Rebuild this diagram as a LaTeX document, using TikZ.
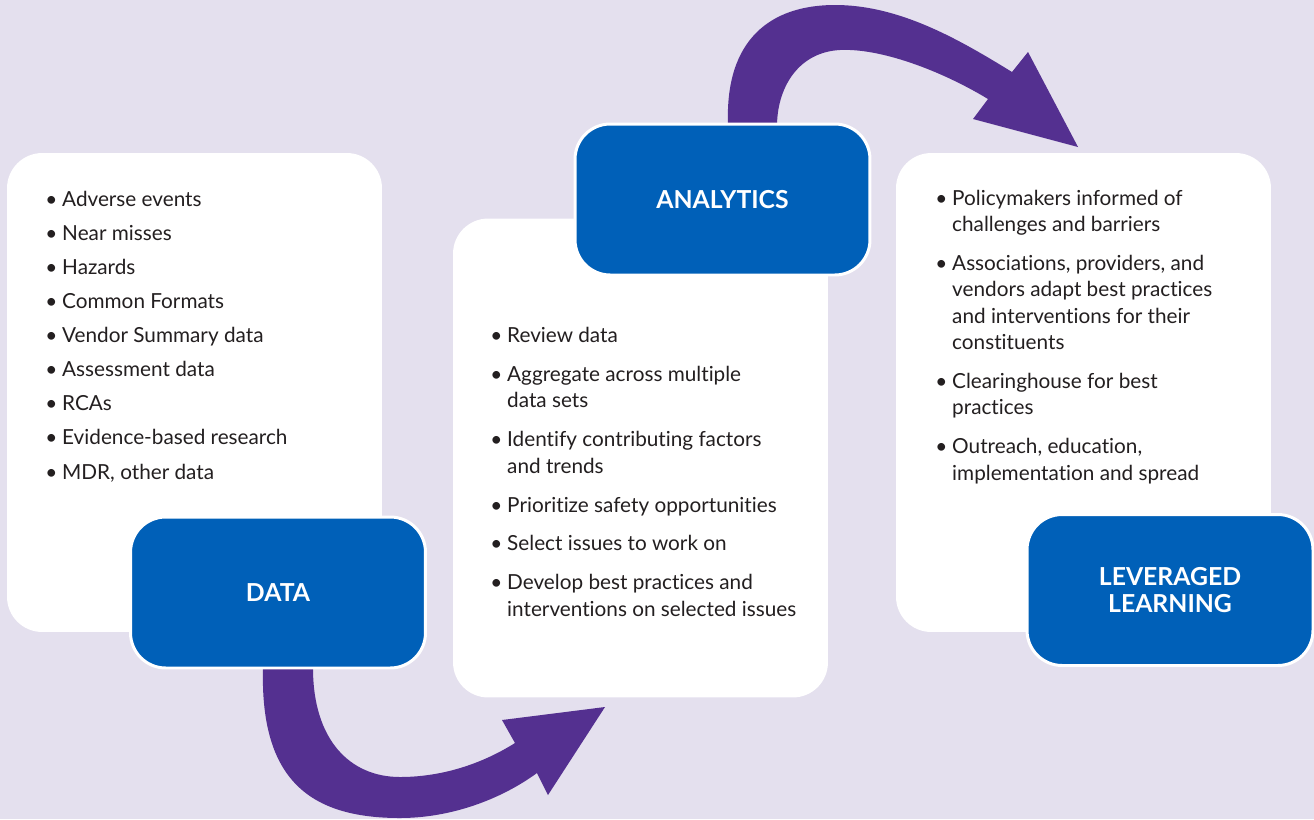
\documentclass[tikz,border=0pt]{standalone}
\usepackage{fontspec}
\setmainfont{Lato}[Ligatures=NoCommon]
\definecolor{lavender}{RGB}{228,224,238}
\definecolor{boxblue}{RGB}{0,96,184}
\definecolor{arrowpurple}{RGB}{84,48,144}
\definecolor{ink}{RGB}{35,31,32}
\newcommand{\bul}{\makebox[9.6pt][l]{\textbullet}}
\newcommand{\ind}{\hspace*{9.6pt}}

\begin{document}
\begin{tikzpicture}[x=0.02cm,y=-0.02cm,
		panel/.style={fill=white,rounded corners=20pt,minimum width=7.5cm,minimum height=9.58cm,inner sep=0pt},
		titlebox/.style={fill=boxblue,draw=white,line width=1.7pt,rounded corners=20pt,minimum width=5.9cm,minimum height=3.02cm,text=white,align=center,font=\fontsize{14.1}{14.9}\selectfont\bfseries},
		bullets/.style={anchor=base west,align=left,text=ink,inner sep=0pt,font=\fontsize{11.8}{15}\selectfont},
		bigarrow/.style={fill=arrowpurple}]

		\useasboundingbox (0,0) rectangle (1314,819);
		\fill[lavender] (0,0) rectangle (1314,819);

		\node[panel] (datapanel) at (194.5,392.5) {};
		\node[panel] (analyticspanel) at (640.5,458) {};
		\node[panel] (learnpanel) at (1083.5,392.5) {};

		\fill[bigarrow] (728,140) -- (728,124) .. controls (725,40) and (770,5) .. (835,5)
			.. controls (900,5) and (960,40) .. (1012,72) -- (1028,52) -- (1078,147) -- (973,119) -- (988,99)
			.. controls (940,70) and (880,48) .. (840,50) .. controls (800,52) and (778,85) .. (777,124) -- (777,140) -- cycle;
		\fill[bigarrow] (263,650) -- (263,668) .. controls (260,780) and (310,818) .. (400,818)
			.. controls (450,818) and (500,800) .. (537,773) -- (548,795) -- (605,707) -- (502,720) -- (515,743)
			.. controls (480,765) and (440,777) .. (400,777) .. controls (350,777) and (313,740) .. (313,668) -- (313,650) -- cycle;

		\node[titlebox] (data) at (278,592.5) {DATA};
		\node[titlebox] (analytics) at (722.5,199.5) {ANALYTICS};
		\node[titlebox,minimum width=5.72cm] (learning) at (1170,590) {LEVERAGED\\LEARNING};

		\node[bullets] (datalist) at (45,479) {\bul Adverse events\\[4.4pt]
			\bul Near misses\\[4.4pt]
			\bul Hazards\\[4.4pt]
			\bul Common Formats\\[4.4pt]
			\bul Vendor Summary data\\[4.4pt]
			\bul Assessment data\\[4.4pt]
			\bul RCAs\\[4.4pt]
			\bul Evidence-based research\\[4.4pt]
			\bul MDR, other data};
		\node[bullets] (analyticslist) at (490,616) {\bul Review data\\[7.1pt]
			\bul Aggregate across multiple\\ \ind data sets\\[7.1pt]
			\bul Identify contributing factors\\ \ind and trends\\[7.1pt]
			\bul Prioritize safety opportunities\\[7.1pt]
			\bul Select issues to work on\\[7.1pt]
			\bul Develop best practices and\\ \ind interventions on selected issues};
		\node[bullets] (learnlist) at (935,480) {\bul Policymakers informed of\\ \ind challenges and barriers\\[7.1pt]
			\bul Associations, providers, and\\ \ind vendors adapt best practices\\ \ind and interventions for their\\ \ind constituents\\[7.1pt]
			\bul Clearinghouse for best\\ \ind practices\\[7.1pt]
			\bul Outreach, education,\\ \ind implementation and spread};
	\end{tikzpicture}
\end{document}
